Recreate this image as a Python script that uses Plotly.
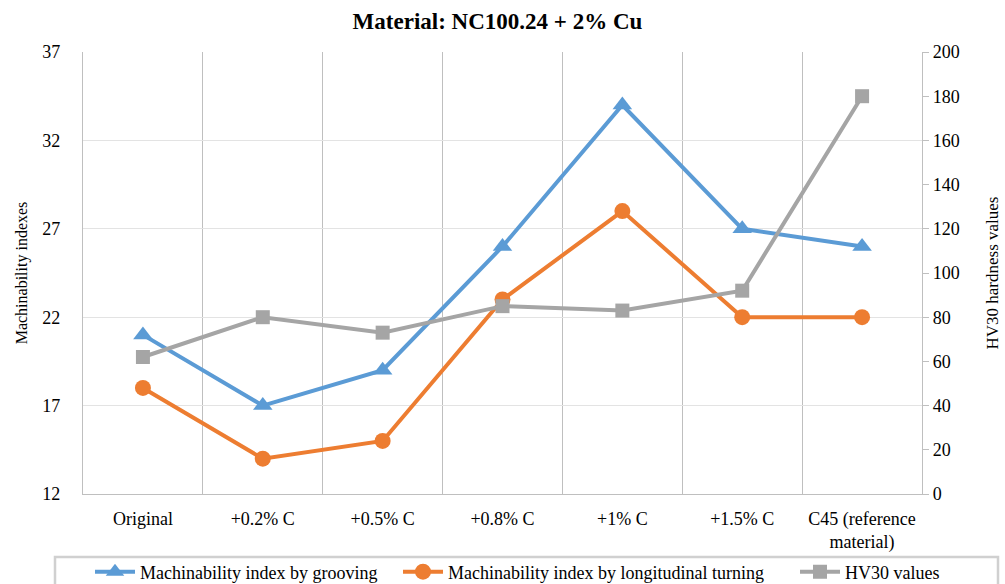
import plotly.graph_objects as go

categories = ["Original", "+0.2% C", "+0.5% C", "+0.8% C", "+1% C", "+1.5% C", "C45 (reference<br>material)"]
grooving = [21, 17, 19, 26, 34, 27, 26]
turning = [18, 14, 15, 23, 28, 22, 22]
hv30 = [62, 80, 73, 85, 83, 92, 180]

FONT = "Liberation Serif, Times New Roman, serif"
fig = go.Figure()
fig.add_trace(go.Scatter(x=categories, y=grooving, name="Machinability index by grooving",
                         mode="lines+markers", line=dict(color="#5B9BD5", width=4),
                         marker=dict(symbol="triangle-up", size=17, color="#5B9BD5"), legend="legend"))
fig.add_trace(go.Scatter(x=categories, y=turning, name="Machinability index by longitudinal turning",
                         mode="lines+markers", line=dict(color="#ED7D31", width=4),
                         marker=dict(symbol="circle", size=16, color="#ED7D31"), legend="legend2"))
fig.add_trace(go.Scatter(x=categories, y=hv30, name="HV30 values", yaxis="y2",
                         mode="lines+markers", line=dict(color="#A5A5A5", width=4),
                         marker=dict(symbol="square", size=14, color="#A5A5A5"), legend="legend3"))

def leg(xpx):
    return dict(orientation="h", xref="container", x=xpx / 1005, xanchor="left",
                yref="container", y=1 - 572 / 584, yanchor="middle",
                font=dict(size=18), bgcolor="rgba(0,0,0,0)", itemwidth=40)

fig.update_layout(
    width=1005, height=584,
    margin=dict(l=83, r=83, t=52, b=90, autoexpand=False),
    paper_bgcolor="white", plot_bgcolor="white",
    font=dict(family=FONT, size=18, color="#000000"),
    title=dict(text="<b>Material: NC100.24 + 2% Cu</b>", x=0.495, xanchor="center",
               y=1 - 21 / 584, yanchor="middle", font=dict(size=23, family=FONT)),
    xaxis=dict(type="category", tickson="boundaries", showgrid=True, gridcolor="#BFBFBF", gridwidth=1.3,
               showline=True, linecolor="#BFBFBF", linewidth=1.3, ticks="", range=[-0.5, 6.5],
               tickfont=dict(size=18), automargin=False, ticklabelstandoff=8),
    yaxis=dict(range=[12, 37], tickvals=[12, 17, 22, 27, 32, 37], showgrid=True, gridcolor="#E3E3E3",
               gridwidth=1.3, zeroline=False, showline=True, linecolor="#BFBFBF", linewidth=1.3,
               title=dict(text="Machinability indexes", font=dict(size=16), standoff=10),
               ticks="", tickfont=dict(size=18), ticklabelstandoff=18, automargin=False),
    yaxis2=dict(range=[0, 200], dtick=20, overlaying="y", side="right", showgrid=False, zeroline=False,
                showline=True, linecolor="#BFBFBF", linewidth=1.3, ticks="outside", ticklen=6,
                tickcolor="#BFBFBF", title=dict(text="HV30 hardness values", font=dict(size=17), standoff=27),
                tickfont=dict(size=18), automargin=False),
    legend=leg(90),
    legend2=leg(398),
    legend3=leg(795),
    showlegend=True,
    shapes=[dict(type="rect", xref="paper", yref="paper", x0=(55 - 83) / 839, x1=(998 - 83) / 839,
                 y0=(494 - 600) / 442, y1=(494 - 557) / 442,
                 line=dict(color="#D0D0D0", width=2.5), fillcolor="rgba(0,0,0,0)")],
)
fig.write_html("out.html", config={"displayModeBar": False},
               post_script="document.body.style.margin='0';document.body.style.overflow='hidden';")
